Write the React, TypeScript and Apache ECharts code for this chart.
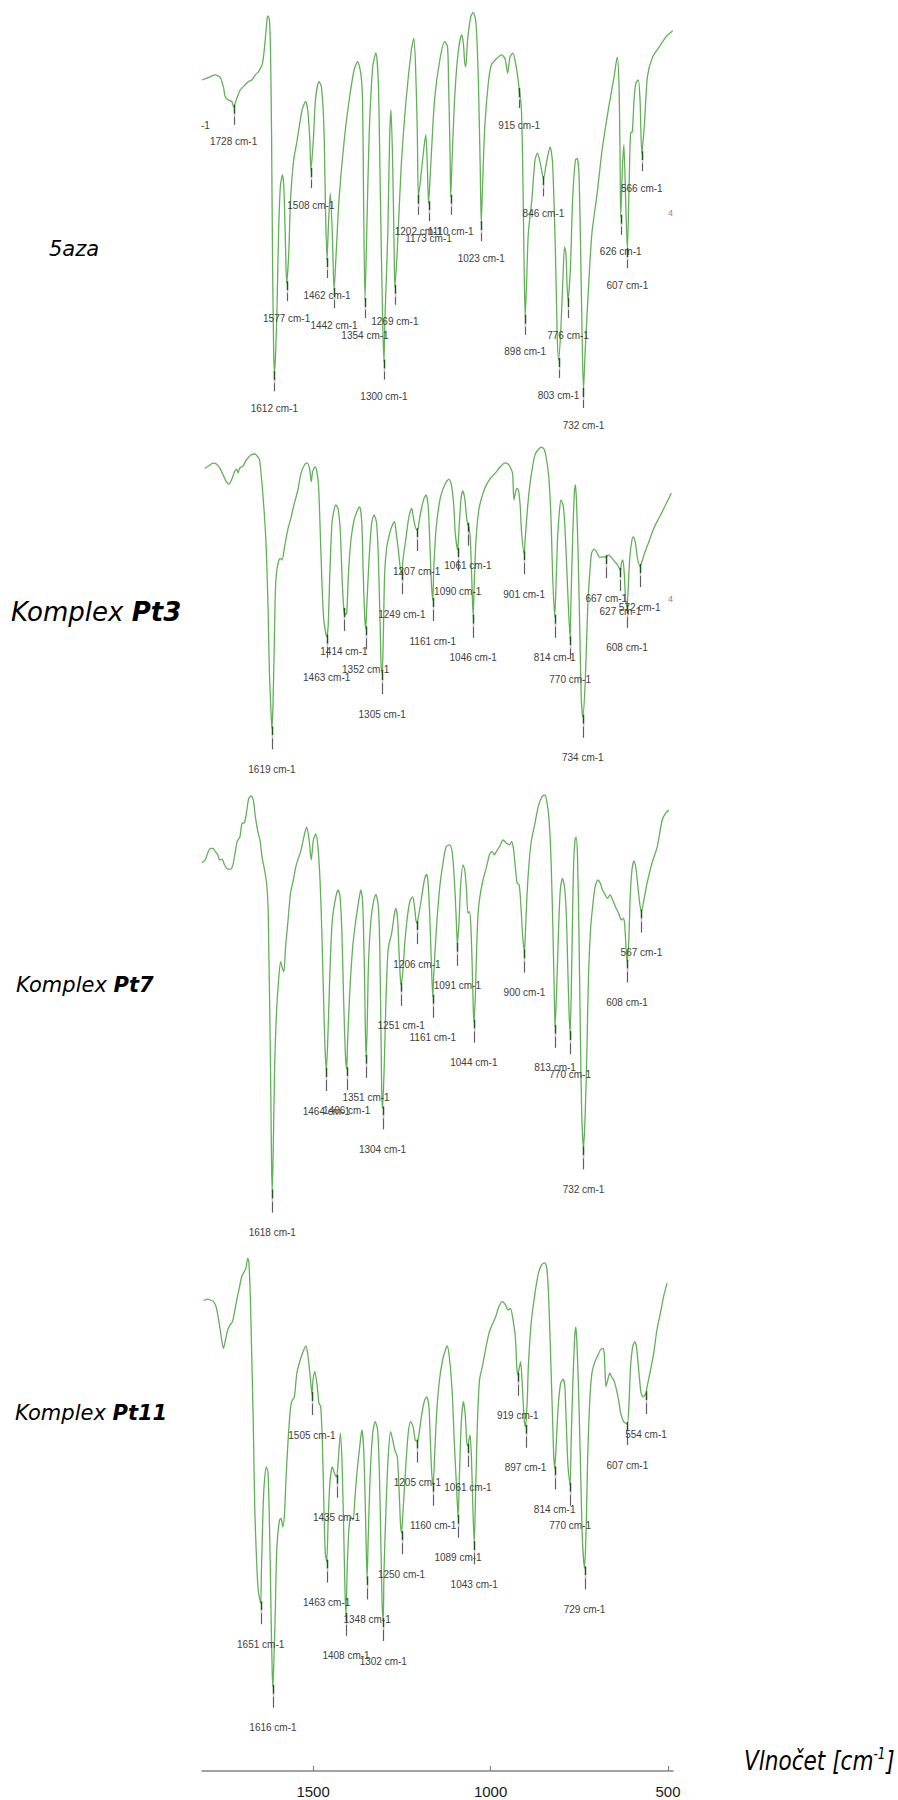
import React, { useEffect, useRef } from 'react';
import * as echarts from 'echarts';

// Wavenumber (cm-1) / transmittance (%) pairs
const spectrum5aza: [number, number][] = [
  [1818, 80.0], [1795, 80.8], [1781, 81.3], [1767, 80.7], [1757, 78.3], [1752, 75.8], [1743, 75.0], [1733, 74.6], [1728, 73.3], [1719, 75.4], [1709, 77.5], [1695, 78.8], [1686, 79.6], [1676, 80.0], [1666, 81.3], [1657, 82.1], [1647, 83.8], [1643, 85.8], [1638, 90.0], [1633, 95.0], [1630, 96.0], [1626, 95.0], [1623, 87.5], [1620, 66.7], [1617, 33.3], [1614, 12.5], [1612, 6.7], [1608, 12.5], [1604, 25.0], [1600, 41.7], [1595, 53.3], [1589, 56.3], [1585, 53.3], [1580, 37.5], [1577, 29.2], [1571, 36.7], [1566, 50.0], [1557, 60.0], [1547, 65.0], [1533, 72.5], [1523, 74.6], [1517, 72.5], [1511, 65.0], [1508, 57.5], [1501, 65.0], [1495, 75.0], [1485, 79.6], [1478, 78.3], [1471, 68.3], [1466, 45.8], [1462, 35.0], [1459, 41.7], [1453, 51.7], [1447, 41.7], [1442, 27.5], [1437, 35.0], [1428, 50.0], [1413, 65.0], [1399, 75.0], [1385, 82.5], [1375, 84.6], [1366, 81.7], [1361, 75.0], [1358, 50.0], [1354, 25.0], [1349, 41.7], [1342, 66.7], [1332, 83.3], [1323, 86.8], [1316, 79.2], [1310, 50.0], [1304, 20.8], [1300, 9.6], [1297, 20.8], [1289, 41.7], [1284, 65.0], [1280, 72.5], [1275, 58.3], [1271, 37.5], [1269, 28.3], [1262, 37.5], [1251, 58.3], [1237, 75.0], [1222, 87.5], [1215, 90.4], [1210, 83.3], [1205, 66.7], [1202, 50.8], [1196, 55.0], [1187, 62.5], [1181, 66.3], [1177, 60.0], [1173, 49.2], [1167, 58.3], [1156, 75.0], [1141, 85.0], [1127, 89.6], [1119, 88.3], [1116, 79.2], [1112, 62.5], [1110, 50.8], [1105, 62.5], [1098, 76.7], [1089, 86.7], [1079, 91.3], [1074, 89.2], [1070, 84.2], [1067, 83.3], [1062, 90.0], [1053, 95.8], [1046, 96.9], [1039, 95.0], [1034, 87.5], [1030, 75.0], [1026, 58.3], [1023, 44.2], [1019, 54.2], [1013, 68.3], [1003, 79.2], [994, 83.8], [979, 85.4], [965, 86.3], [955, 85.2], [948, 81.7], [941, 85.8], [933, 86.7], [927, 85.0], [919, 80.8], [915, 77.5], [909, 73.3], [905, 58.3], [901, 33.3], [898, 20.8], [894, 29.2], [889, 41.7], [879, 50.0], [870, 60.0], [863, 61.7], [855, 59.2], [846, 55.4], [836, 60.0], [827, 63.3], [820, 59.2], [812, 37.5], [807, 16.7], [803, 10.0], [797, 16.7], [791, 29.2], [786, 38.3], [782, 36.7], [779, 29.2], [776, 25.0], [769, 33.3], [763, 50.0], [755, 60.0], [750, 60.4], [745, 56.7], [741, 41.7], [736, 16.7], [732, 2.5], [727, 12.5], [717, 29.2], [708, 41.7], [693, 51.7], [679, 62.5], [660, 73.3], [645, 80.8], [636, 85.7], [631, 79.2], [628, 62.5], [626, 45.8], [621, 58.3], [617, 63.8], [612, 50.0], [607, 37.5], [602, 54.2], [598, 66.7], [593, 67.1], [588, 75.0], [583, 79.2], [576, 80.0], [571, 75.0], [566, 61.7], [559, 68.3], [550, 80.8], [535, 85.8], [516, 88.3], [497, 90.8], [478, 92.3],
];

const spectrumPt3: [number, number][] = [
  [1810, 92.9], [1800, 93.5], [1786, 94.2], [1777, 94.0], [1767, 92.9], [1758, 91.3], [1749, 89.6], [1741, 89.0], [1734, 90.0], [1725, 92.1], [1720, 92.7], [1715, 91.8], [1711, 92.9], [1701, 93.5], [1692, 95.0], [1678, 96.3], [1668, 96.5], [1659, 95.8], [1654, 95.0], [1649, 90.8], [1645, 86.7], [1640, 80.8], [1635, 72.5], [1630, 58.3], [1626, 41.7], [1621, 30.8], [1619, 27.9], [1616, 33.3], [1612, 50.0], [1609, 62.5], [1605, 67.5], [1599, 70.0], [1595, 70.4], [1590, 70.0], [1583, 73.3], [1574, 77.5], [1564, 80.8], [1555, 84.2], [1545, 87.5], [1536, 91.7], [1526, 93.8], [1519, 94.3], [1512, 92.9], [1507, 89.6], [1503, 92.1], [1496, 93.3], [1491, 92.1], [1486, 88.3], [1479, 70.8], [1472, 55.8], [1463, 50.8], [1459, 53.3], [1454, 66.7], [1448, 79.2], [1441, 82.9], [1437, 83.8], [1430, 82.5], [1424, 76.7], [1419, 65.0], [1414, 57.5], [1410, 56.3], [1406, 56.7], [1401, 66.7], [1394, 75.0], [1385, 80.0], [1375, 82.5], [1369, 83.3], [1363, 79.2], [1359, 66.7], [1355, 55.8], [1352, 52.9], [1349, 58.3], [1342, 70.8], [1335, 79.2], [1328, 81.3], [1321, 79.2], [1316, 70.8], [1311, 54.2], [1308, 43.3], [1305, 41.7], [1302, 50.0], [1298, 66.7], [1292, 73.3], [1286, 75.8], [1278, 78.3], [1270, 79.6], [1265, 76.7], [1259, 72.5], [1254, 68.3], [1249, 66.7], [1246, 70.0], [1238, 75.0], [1229, 80.8], [1221, 82.9], [1215, 80.0], [1207, 77.5], [1203, 77.9], [1196, 81.7], [1186, 85.4], [1180, 86.3], [1174, 83.3], [1169, 73.3], [1165, 64.2], [1161, 60.0], [1158, 68.3], [1151, 78.3], [1139, 85.8], [1125, 89.2], [1115, 90.2], [1108, 88.8], [1101, 83.3], [1097, 76.7], [1090, 72.5], [1087, 76.7], [1081, 85.0], [1076, 87.3], [1070, 85.4], [1065, 80.8], [1061, 78.8], [1058, 78.3], [1054, 75.0], [1049, 62.5], [1046, 55.8], [1043, 64.2], [1038, 75.0], [1030, 82.5], [1021, 85.8], [1011, 88.3], [997, 90.4], [983, 91.7], [969, 93.3], [955, 94.3], [947, 94.0], [941, 93.3], [934, 91.7], [930, 85.0], [926, 86.7], [922, 87.9], [917, 87.5], [912, 83.3], [908, 76.7], [901, 71.7], [898, 75.0], [891, 83.3], [884, 89.2], [877, 93.3], [870, 96.3], [860, 97.7], [851, 98.2], [843, 97.5], [837, 95.0], [830, 90.0], [824, 79.2], [820, 66.7], [814, 55.8], [810, 64.2], [806, 75.0], [801, 81.7], [796, 85.0], [789, 83.3], [783, 75.0], [777, 62.5], [770, 50.4], [768, 58.3], [763, 75.0], [758, 86.7], [755, 88.8], [752, 85.0], [747, 70.8], [742, 50.0], [738, 35.0], [734, 30.8], [728, 37.5], [723, 50.0], [719, 60.0], [714, 66.7], [709, 71.7], [702, 72.7], [695, 72.1], [686, 70.7], [676, 70.8], [667, 70.7], [662, 71.3], [654, 70.8], [645, 69.8], [635, 68.8], [627, 67.5], [624, 69.2], [620, 70.0], [616, 66.7], [612, 60.0], [608, 58.3], [605, 62.5], [600, 70.8], [594, 75.0], [590, 75.8], [584, 74.2], [579, 70.8], [572, 68.5], [567, 69.2], [558, 71.7], [544, 75.0], [530, 78.3], [515, 80.8], [501, 83.3], [482, 86.7],
];

const spectrumPt7: [number, number][] = [
  [1818, 79.3], [1809, 80.0], [1802, 81.7], [1794, 82.9], [1787, 82.9], [1780, 82.1], [1773, 81.3], [1768, 80.0], [1761, 80.2], [1754, 78.8], [1747, 77.9], [1737, 77.7], [1730, 78.8], [1723, 82.1], [1718, 84.6], [1710, 85.8], [1704, 89.2], [1697, 89.3], [1691, 92.1], [1685, 95.4], [1678, 96.0], [1672, 95.0], [1666, 90.8], [1659, 87.1], [1653, 85.0], [1647, 80.8], [1640, 77.5], [1634, 74.2], [1630, 68.3], [1628, 58.3], [1625, 41.7], [1622, 20.8], [1620, 4.2], [1618, -2.9], [1615, 8.3], [1611, 29.2], [1606, 41.7], [1600, 50.0], [1594, 54.6], [1589, 52.9], [1585, 52.1], [1580, 58.3], [1573, 65.0], [1566, 71.7], [1558, 75.0], [1551, 78.3], [1544, 80.4], [1537, 82.1], [1528, 85.8], [1520, 88.2], [1513, 85.0], [1507, 80.0], [1501, 85.0], [1494, 86.5], [1488, 83.3], [1482, 75.0], [1477, 62.5], [1472, 45.8], [1468, 33.3], [1464, 27.5], [1459, 37.5], [1453, 54.2], [1447, 65.0], [1437, 70.8], [1430, 72.5], [1425, 70.8], [1420, 62.5], [1415, 45.8], [1410, 31.7], [1406, 27.7], [1404, 33.3], [1398, 45.8], [1389, 58.3], [1380, 65.0], [1370, 70.8], [1366, 72.5], [1361, 70.0], [1356, 54.2], [1353, 37.5], [1351, 30.8], [1348, 37.5], [1344, 54.2], [1337, 65.0], [1329, 70.0], [1323, 71.4], [1316, 68.3], [1312, 58.3], [1308, 33.3], [1306, 20.8], [1304, 17.9], [1299, 29.2], [1294, 45.8], [1289, 56.7], [1285, 59.2], [1278, 61.7], [1270, 66.7], [1266, 67.9], [1261, 65.0], [1257, 56.7], [1253, 50.0], [1251, 48.8], [1246, 52.5], [1240, 60.0], [1232, 66.7], [1225, 70.0], [1218, 70.8], [1213, 68.3], [1209, 65.0], [1206, 64.2], [1202, 65.8], [1194, 70.0], [1185, 75.0], [1179, 76.4], [1175, 75.0], [1170, 66.7], [1165, 54.2], [1161, 45.8], [1158, 51.7], [1151, 62.5], [1142, 72.5], [1132, 79.2], [1123, 83.3], [1113, 83.8], [1106, 82.1], [1102, 78.3], [1097, 70.8], [1093, 62.5], [1091, 58.8], [1086, 65.0], [1082, 73.3], [1075, 78.8], [1070, 77.5], [1065, 72.5], [1061, 66.7], [1057, 67.1], [1053, 64.2], [1049, 54.2], [1046, 43.3], [1044, 39.6], [1040, 45.8], [1036, 58.3], [1032, 66.7], [1027, 70.8], [1018, 75.0], [1008, 78.3], [999, 81.5], [992, 82.1], [986, 81.3], [980, 82.1], [970, 83.5], [961, 85.0], [951, 84.2], [942, 83.8], [937, 84.6], [932, 83.3], [927, 79.2], [921, 74.2], [915, 73.8], [910, 68.3], [905, 60.8], [900, 57.1], [897, 62.5], [893, 70.8], [887, 79.2], [880, 85.0], [870, 89.2], [861, 93.3], [851, 95.7], [843, 96.3], [837, 95.0], [830, 90.0], [824, 79.2], [819, 62.5], [815, 45.8], [813, 38.3], [809, 45.8], [803, 62.5], [798, 72.5], [792, 75.4], [786, 73.3], [781, 66.7], [777, 54.2], [773, 41.7], [770, 36.7], [767, 45.8], [763, 66.7], [760, 79.2], [756, 85.0], [753, 85.7], [749, 80.8], [745, 62.5], [741, 37.5], [737, 16.7], [732, 7.9], [727, 16.7], [722, 33.3], [718, 50.0], [712, 62.5], [706, 68.3], [699, 73.3], [691, 75.0], [684, 74.2], [678, 72.5], [670, 71.3], [664, 70.4], [656, 71.3], [649, 70.0], [641, 68.3], [632, 66.7], [624, 65.0], [619, 65.4], [615, 64.2], [611, 58.3], [608, 54.6], [603, 60.0], [599, 70.8], [594, 77.5], [588, 79.8], [582, 77.5], [577, 73.3], [572, 69.2], [567, 67.1], [560, 70.0], [551, 74.2], [537, 79.2], [522, 83.3], [508, 90.0], [498, 91.7], [489, 92.5],
];

const spectrumPt11: [number, number][] = [
  [1813, 84.8], [1804, 85.2], [1794, 85.0], [1785, 84.6], [1778, 83.3], [1773, 81.3], [1766, 77.5], [1762, 75.0], [1757, 72.9], [1752, 74.6], [1745, 77.5], [1738, 78.8], [1731, 79.6], [1726, 81.7], [1719, 85.0], [1713, 87.5], [1705, 90.8], [1698, 92.1], [1693, 92.9], [1688, 95.4], [1685, 95.0], [1681, 87.5], [1677, 73.3], [1672, 54.2], [1668, 33.3], [1663, 20.8], [1658, 12.5], [1651, 9.2], [1649, 16.7], [1644, 33.3], [1640, 40.0], [1635, 43.3], [1630, 41.7], [1625, 25.0], [1621, 4.2], [1618, -8.3], [1616, -11.7], [1613, -4.2], [1609, 8.3], [1606, 20.8], [1602, 26.7], [1597, 30.0], [1593, 30.4], [1588, 28.3], [1583, 31.7], [1579, 40.0], [1574, 48.3], [1569, 55.0], [1564, 59.2], [1560, 60.0], [1555, 60.8], [1548, 66.7], [1541, 69.2], [1532, 71.7], [1522, 73.5], [1516, 70.8], [1510, 65.8], [1505, 61.5], [1502, 65.0], [1497, 67.1], [1491, 64.2], [1485, 59.2], [1480, 58.3], [1475, 48.3], [1471, 33.3], [1467, 21.7], [1463, 19.6], [1459, 29.2], [1454, 39.2], [1447, 43.3], [1441, 41.7], [1435, 40.8], [1430, 45.0], [1424, 51.7], [1419, 43.3], [1414, 25.0], [1411, 12.5], [1408, 6.3], [1405, 16.7], [1400, 27.5], [1394, 30.8], [1388, 30.0], [1383, 35.0], [1377, 41.7], [1369, 48.3], [1363, 52.5], [1358, 48.3], [1353, 33.3], [1350, 20.8], [1348, 15.4], [1345, 25.0], [1339, 41.7], [1332, 51.7], [1325, 54.6], [1318, 52.5], [1313, 41.7], [1308, 20.8], [1305, 8.3], [1302, 5.0], [1300, 16.7], [1294, 33.3], [1288, 45.8], [1281, 52.1], [1275, 50.0], [1269, 47.5], [1262, 45.8], [1257, 37.5], [1253, 29.2], [1250, 26.7], [1245, 33.3], [1238, 43.3], [1231, 51.7], [1224, 54.6], [1217, 53.3], [1211, 50.0], [1205, 49.6], [1200, 51.7], [1192, 56.7], [1184, 60.0], [1178, 60.8], [1172, 58.3], [1168, 50.0], [1164, 41.7], [1160, 38.8], [1156, 45.8], [1150, 56.7], [1142, 65.0], [1133, 70.0], [1125, 72.5], [1120, 73.5], [1114, 70.8], [1106, 62.5], [1100, 50.0], [1093, 37.5], [1089, 30.8], [1085, 41.7], [1080, 54.2], [1074, 59.6], [1069, 56.7], [1064, 49.2], [1061, 48.5], [1058, 50.0], [1055, 51.3], [1051, 45.8], [1047, 33.3], [1043, 24.2], [1039, 37.5], [1034, 54.2], [1028, 65.0], [1020, 68.3], [1011, 72.5], [1001, 76.7], [992, 78.8], [982, 80.8], [973, 83.3], [964, 84.6], [954, 83.8], [947, 82.5], [940, 82.9], [934, 80.8], [926, 75.8], [922, 68.3], [919, 66.3], [915, 67.9], [911, 69.6], [907, 65.0], [903, 58.3], [900, 54.5], [897, 53.3], [892, 60.0], [889, 68.3], [881, 79.2], [870, 86.7], [860, 91.7], [851, 93.8], [842, 94.3], [837, 93.3], [832, 87.5], [827, 75.0], [821, 58.3], [817, 46.7], [814, 42.9], [810, 48.3], [804, 58.3], [797, 64.2], [790, 65.2], [785, 63.3], [781, 54.2], [776, 43.3], [770, 38.8], [767, 50.0], [762, 65.0], [757, 75.8], [754, 78.2], [751, 75.0], [746, 62.5], [740, 41.7], [735, 25.0], [729, 17.9], [724, 29.2], [720, 45.8], [714, 60.0], [708, 66.7], [701, 69.2], [693, 70.8], [684, 72.5], [677, 72.9], [673, 71.7], [668, 63.3], [663, 65.0], [657, 66.7], [652, 65.8], [646, 65.0], [640, 63.3], [632, 60.0], [626, 56.7], [618, 54.6], [612, 54.2], [607, 54.0], [602, 60.0], [598, 68.3], [592, 73.3], [586, 74.6], [581, 73.3], [574, 66.7], [568, 61.7], [562, 60.8], [554, 61.7], [551, 63.3], [541, 67.5], [532, 71.7], [523, 77.5], [513, 81.7], [504, 85.8], [494, 89.2],
];

// Labelled peaks (cm-1)
const peaks5aza = [1728, 1612, 1577, 1508, 1462, 1442, 1354, 1300, 1269, 1202, 1173, 1110, 1023, 915, 898, 846, 803, 776, 732, 626, 607, 566];
const peaksPt3 = [1619, 1463, 1414, 1352, 1305, 1249, 1207, 1161, 1090, 1061, 1046, 901, 814, 770, 734, 667, 627, 608, 572];
const peaksPt7 = [1618, 1464, 1406, 1351, 1304, 1251, 1206, 1161, 1091, 1044, 900, 813, 770, 732, 608, 567];
const peaksPt11 = [1651, 1616, 1505, 1463, 1435, 1408, 1348, 1302, 1250, 1205, 1160, 1089, 1061, 1043, 919, 897, 814, 770, 729, 607, 554];

const axisTicks = [500, 1000, 1500];
const axisTitle = 'Vlnočet';

const sampleNames = [
  { plain: '5aza', bold: '' },
  { plain: 'Komplex ', bold: 'Pt3' },
  { plain: 'Komplex ', bold: 'Pt7' },
  { plain: 'Komplex ', bold: 'Pt11' },
];

const spectra = [spectrum5aza, spectrumPt3, spectrumPt7, spectrumPt11];
const peakLists = [peaks5aza, peaksPt3, peaksPt7, peaksPt11];

// layout (pixels)
const PANEL_TOPS = [0, 440, 780, 1240];
const NAME_POS = [[49, 249], [11, 612], [16, 985], [15, 1413]];
const NAME_SIZE = [21, 26, 21, 21];
const TICK_LEN = [18, 21, 21, 21];
const LABEL_GAP = [17, 20, 20, 20];

const LINE_GREEN = '#62b158';
const NAME_FONT = '"DejaVu Sans", Verdana, sans-serif';
const LABEL_FONT = '"Liberation Sans", Arial, sans-serif';

function valueAt(data: [number, number][], w: number): number {
  for (let i = 0; i < data.length; i++) {
    if (data[i][0] === w) return data[i][1];
  }
  for (let i = 0; i < data.length - 1; i++) {
    const [w0, v0] = data[i];
    const [w1, v1] = data[i + 1];
    if ((w0 - w) * (w1 - w) <= 0) return v0 + ((w - w0) / (w1 - w0)) * (v1 - v0);
  }
  return data[data.length - 1][1];
}

export default function App() {
  const ref = useRef<HTMLDivElement>(null);

  useEffect(() => {
    if (!ref.current) return;
    const chart = echarts.init(ref.current, undefined, { renderer: 'svg' });

    const grids: any[] = PANEL_TOPS.map((top) => ({ left: 202, width: 470, top, height: 460 }));
    grids.push({ left: 202, width: 471, top: 1700, height: 71 });

    const xAxes: any[] = PANEL_TOPS.map((_, i) => ({
      gridIndex: i, type: 'value', min: 480, max: 1818, inverse: true, show: false,
    }));
    xAxes.push({
      gridIndex: 4, type: 'value', min: 486, max: 1813, inverse: true,
      axisLine: { show: true, lineStyle: { color: '#858585', width: 1.6 } },
      axisTick: { show: true, inside: true, length: 5, customValues: axisTicks, lineStyle: { color: '#858585', width: 1.2 } },
      axisLabel: {
        customValues: axisTicks, fontSize: 15, color: '#1a1a1a', margin: 13, fontFamily: LABEL_FONT,
        formatter: (v: number) => String(v),
      },
      splitLine: { show: false },
    });

    const yAxes: any[] = PANEL_TOPS.map((_, i) => ({ gridIndex: i, type: 'value', min: -15, max: 100, show: false }));
    yAxes.push({ gridIndex: 4, type: 'value', min: 0, max: 1, show: false });

    const series: any[] = [];
    spectra.forEach((data, i) => {
      series.push({
        type: 'line', xAxisIndex: i, yAxisIndex: i, data, showSymbol: false, smooth: 0.25,
        lineStyle: { color: LINE_GREEN, width: 1.3 }, z: 2, silent: true,
      });
      const peaks = peakLists[i];
      const tickLen = TICK_LEN[i];
      const gap = LABEL_GAP[i];
      series.push({
        type: 'custom', xAxisIndex: i, yAxisIndex: i, z: 5, silent: true,
        data: peaks.map((w) => [w, valueAt(data, w)]),
        renderItem: (params: any, api: any) => {
          const p = api.coord([api.value(0), api.value(1)]);
          const x = Math.round(p[0]) + 0.5;
          const y = p[1];
          return {
            type: 'group',
            children: [
              { type: 'line', shape: { x1: x, y1: y - 2, x2: x, y2: y + 7 }, style: { stroke: '#1d561d', lineWidth: 1.5 } },
              { type: 'line', shape: { x1: x, y1: y + 7, x2: x, y2: y + 10 }, style: { stroke: '#e8a8e2', lineWidth: 1.5 } },
              { type: 'line', shape: { x1: x, y1: y + 10, x2: x, y2: y + tickLen }, style: { stroke: '#5e5e5e', lineWidth: 1.2 } },
              {
                type: 'text',
                style: {
                  text: `${peaks[params.dataIndex]} cm-1`, x: p[0], y: y + tickLen + gap,
                  align: 'center', verticalAlign: 'middle', fontSize: 10,
                  fontFamily: LABEL_FONT, fill: '#404040',
                },
              },
            ],
          };
        },
      });
    });
    series.push({ type: 'line', xAxisIndex: 4, yAxisIndex: 4, data: [] });

    const graphic: any[] = sampleNames.map((n, i) => ({
      type: 'text', x: NAME_POS[i][0], y: NAME_POS[i][1],
      style: {
        text: n.bold ? `{a|${n.plain}}{b|${n.bold}}` : `{a|${n.plain}}`,
        verticalAlign: 'middle', align: 'left',
        rich: {
          a: { fontSize: NAME_SIZE[i], fontStyle: 'italic', fontFamily: NAME_FONT, fill: '#000' },
          b: { fontSize: NAME_SIZE[i], fontStyle: 'italic', fontWeight: 'bold', fontFamily: NAME_FONT, fill: '#000' },
        },
      },
    }));
    graphic.push({
      type: 'text', x: 744, y: 1760, scaleX: 0.8,
      style: {
        text: `{a|${axisTitle} [cm}{s|-1}{a|]}`,
        verticalAlign: 'middle', align: 'left',
        rich: {
          a: { fontSize: 27, fontStyle: 'italic', fontFamily: NAME_FONT, fill: '#000', verticalAlign: 'bottom' },
          s: { fontSize: 15, fontStyle: 'italic', fontFamily: NAME_FONT, fill: '#000', verticalAlign: 'top', padding: [0, 1, 13, 0] },
        },
      },
    });
    // cut-off label fragments visible at the plot edges
    graphic.push({ type: 'text', x: 201, y: 120, style: { text: '-1', fontSize: 10, fontFamily: LABEL_FONT, fill: '#404040' } });
    graphic.push({ type: 'text', x: 668, y: 208, style: { text: '4', fontSize: 9, fontFamily: LABEL_FONT, fill: '#888' } });
    graphic.push({ type: 'text', x: 668, y: 594, style: { text: '4', fontSize: 9, fontFamily: LABEL_FONT, fill: '#888' } });

    chart.setOption({
      animation: false,
      backgroundColor: '#ffffff',
      grid: grids,
      xAxis: xAxes,
      yAxis: yAxes,
      series,
      graphic,
    });

    return () => chart.dispose();
  }, []);

  return <div ref={ref} style={{ position: 'absolute', left: 0, top: 0, width: 898, height: 1800 }} />;
}
